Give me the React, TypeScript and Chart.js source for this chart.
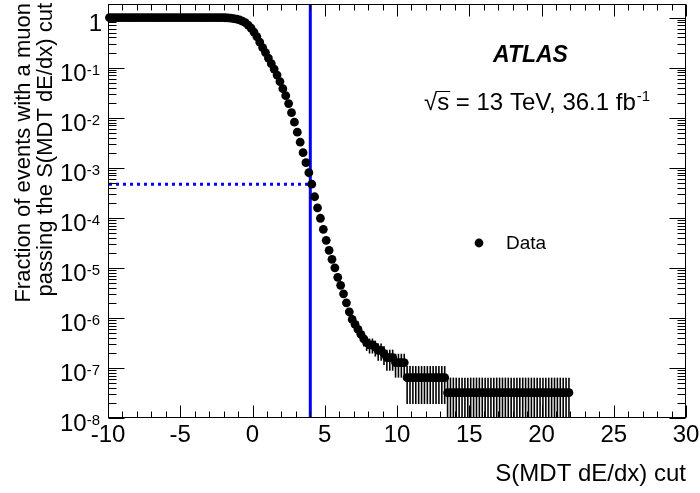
import React, { useEffect, useRef } from "react";
import { Chart, registerables } from "chart.js";

Chart.register(...registerables);

// ---------------- data ----------------
const cutValues: number[] = [
  -9.9, -9.7, -9.5, -9.3, -9.1, -8.9, -8.7, -8.5, -8.3, -8.1,
  -7.9, -7.7, -7.5, -7.3, -7.1, -6.9, -6.7, -6.5, -6.3, -6.1,
  -5.9, -5.7, -5.5, -5.3, -5.1, -4.9, -4.7, -4.5, -4.3, -4.1,
  -3.9, -3.7, -3.5, -3.3, -3.1, -2.9, -2.7, -2.5, -2.3, -2.1,
  -1.9, -1.7, -1.5, -1.3, -1.1, -0.9, -0.7, -0.5, -0.3, -0.1,
  0.1, 0.3, 0.5, 0.7, 0.9, 1.1, 1.3, 1.5, 1.7, 1.9,
  2.1, 2.3, 2.5, 2.7, 2.9, 3.1, 3.3, 3.5, 3.7, 3.9,
  4.1, 4.3, 4.5, 4.7, 4.9, 5.1, 5.3, 5.5, 5.7, 5.9,
  6.1, 6.3, 6.5, 6.7, 6.9, 7.1, 7.3, 7.5, 7.7, 7.9,
  8.1, 8.3, 8.5, 8.7, 8.9, 9.1, 9.3, 9.5, 9.7, 9.9,
  10.1, 10.3, 10.5, 10.7, 10.9, 11.1, 11.3, 11.5, 11.7, 11.9,
  12.1, 12.3, 12.5, 12.7, 12.9, 13.1, 13.3, 13.5, 13.7, 13.9,
  14.1, 14.3, 14.5, 14.7, 14.9, 15.1, 15.3, 15.5, 15.7, 15.9,
  16.1, 16.3, 16.5, 16.7, 16.9, 17.1, 17.3, 17.5, 17.7, 17.9,
  18.1, 18.3, 18.5, 18.7, 18.9, 19.1, 19.3, 19.5, 19.7, 19.9,
  20.1, 20.3, 20.5, 20.7, 20.9, 21.1, 21.3, 21.5, 21.7, 21.9,
];

const fractionPassing: number[] = [
  1, 1, 1, 1, 1, 1, 1, 1, 1, 1,
  1, 1, 1, 1, 1, 1, 1, 1, 1, 1,
  1, 1, 1, 1, 1, 1, 1, 1, 1, 1,
  1, 1, 1, 1, 1, 1, 1, 1, 0.998, 0.995,
  0.991, 0.984, 0.973, 0.955, 0.933, 0.902, 0.851, 0.794, 0.708, 0.617,
  0.513, 0.417, 0.324, 0.251, 0.2, 0.155, 0.12, 0.0933, 0.0708, 0.0525,
  0.038, 0.0275, 0.0191, 0.0126, 0.00813, 0.00513, 0.00324, 0.002, 0.00126, 7.94e-4,
  4.68e-4, 2.63e-4, 1.58e-4, 9.77e-5, 5.89e-5, 3.55e-5, 2.24e-5, 1.48e-5, 1.0e-5, 6.46e-6,
  4.47e-6, 3.02e-6, 2.0e-6, 1.32e-6, 9.33e-7, 7.4e-7, 5.9e-7, 4.7e-7, 3.8e-7, 3.2e-7,
  2.9e-7, 2.9e-7, 2.6e-7, 2.24e-7, 2.24e-7, 1.92e-7, 1.6e-7, 1.6e-7, 1.6e-7, 1.28e-7,
  1.28e-7, 1.28e-7, 1.28e-7, 6.4e-8, 6.4e-8, 6.4e-8, 6.4e-8, 6.4e-8, 6.4e-8, 6.4e-8,
  6.4e-8, 6.4e-8, 6.4e-8, 6.4e-8, 6.4e-8, 6.4e-8, 6.4e-8, 3.2e-8, 3.2e-8, 3.2e-8,
  3.2e-8, 3.2e-8, 3.2e-8, 3.2e-8, 3.2e-8, 3.2e-8, 3.2e-8, 3.2e-8, 3.2e-8, 3.2e-8,
  3.2e-8, 3.2e-8, 3.2e-8, 3.2e-8, 3.2e-8, 3.2e-8, 3.2e-8, 3.2e-8, 3.2e-8, 3.2e-8,
  3.2e-8, 3.2e-8, 3.2e-8, 3.2e-8, 3.2e-8, 3.2e-8, 3.2e-8, 3.2e-8, 3.2e-8, 3.2e-8,
  3.2e-8, 3.2e-8, 3.2e-8, 3.2e-8, 3.2e-8, 3.2e-8, 3.2e-8, 3.2e-8, 3.2e-8, 3.2e-8,
];

const fractionError: number[] = [
  0, 0, 0, 0, 0, 0, 0, 0, 0, 0,
  0, 0, 0, 0, 0, 0, 0, 0, 0, 0,
  0, 0, 0, 0, 0, 0, 0, 0, 0, 0,
  0, 0, 0, 0, 0, 0, 0, 0, 0, 0,
  0, 0, 0, 0, 0, 0, 0, 0, 0, 0,
  0, 0, 0, 0, 0, 0, 0, 0, 0, 0,
  0, 0, 0, 0, 0, 0, 0, 0, 0, 0,
  0, 0, 0, 0, 0, 0, 0, 0, 0, 0,
  0, 0, 2.5e-7, 2.05e-7, 1.72e-7, 1.53e-7, 1.36e-7, 1.24e-7, 1.11e-7, 1.01e-7,
  9.6e-8, 9.6e-8, 9.1e-8, 8.5e-8, 8.5e-8, 7.8e-8, 7.2e-8, 7.2e-8, 7.2e-8, 6.4e-8,
  6.4e-8, 6.4e-8, 6.4e-8, 4.5e-8, 4.5e-8, 4.5e-8, 4.5e-8, 4.5e-8, 4.5e-8, 4.5e-8,
  4.5e-8, 4.5e-8, 4.5e-8, 4.5e-8, 4.5e-8, 4.5e-8, 4.5e-8, 3.2e-8, 3.2e-8, 3.2e-8,
  3.2e-8, 3.2e-8, 3.2e-8, 3.2e-8, 3.2e-8, 3.2e-8, 3.2e-8, 3.2e-8, 3.2e-8, 3.2e-8,
  3.2e-8, 3.2e-8, 3.2e-8, 3.2e-8, 3.2e-8, 3.2e-8, 3.2e-8, 3.2e-8, 3.2e-8, 3.2e-8,
  3.2e-8, 3.2e-8, 3.2e-8, 3.2e-8, 3.2e-8, 3.2e-8, 3.2e-8, 3.2e-8, 3.2e-8, 3.2e-8,
  3.2e-8, 3.2e-8, 3.2e-8, 3.2e-8, 3.2e-8, 3.2e-8, 3.2e-8, 3.2e-8, 3.2e-8, 3.2e-8,
];

const cutLineX = 4;
const cutLineEfficiency = 4.68e-4;

const xTickLabels: number[] = [-10, -5, 0, 5, 10, 15, 20, 25, 30];
const xMinorTicks: number[] = [
  -9, -8, -7, -6, -4, -3, -2, -1, 1, 2, 3, 4, 6, 7, 8, 9, 11, 12, 13, 14,
  16, 17, 18, 19, 21, 22, 23, 24, 26, 27, 28, 29,
];
const yDecadeExponents: number[] = [0, -1, -2, -3, -4, -5, -6, -7, -8];
const yMinorMultipliers: number[] = [2, 3, 4, 5, 6, 7, 8, 9];

const xTitle = "S(MDT dE/dx) cut";
const yTitleLines = ["Fraction of events with a muon", "passing the S(MDT dE/dx) cut"];
const legendLabel = "Data";

const X_MIN = -10;
const X_MAX = 30;
const Y_MIN = 1e-8;
const Y_MAX = 1.83;

const FONT = "'Liberation Sans', Arial, Helvetica, sans-serif";

const decorPlugin = {
  id: "atlasDecor",
  beforeDatasetsDraw(chart: any) {
    const { ctx, chartArea: a, scales } = chart;
    const xs = scales.x;
    const ys = scales.y;
    ctx.save();
    // error bars
    ctx.strokeStyle = "#000";
    ctx.lineWidth = 1.6;
    for (let i = 0; i < cutValues.length; i++) {
      const e = fractionError[i];
      if (!e) continue;
      const v = fractionPassing[i];
      const px = xs.getPixelForValue(cutValues[i]);
      let top = ys.getPixelForValue(v + e);
      const lo = v - e;
      let bot = lo > Y_MIN ? ys.getPixelForValue(lo) : a.bottom;
      top = Math.max(a.top, top);
      bot = Math.min(a.bottom, bot);
      ctx.beginPath();
      ctx.moveTo(px, top);
      ctx.lineTo(px, bot);
      ctx.stroke();
    }
    // cut lines
    const cx = xs.getPixelForValue(cutLineX);
    const cy = ys.getPixelForValue(cutLineEfficiency);
    ctx.strokeStyle = "#0000ff";
    ctx.lineWidth = 3;
    ctx.setLineDash([3, 4]);
    ctx.beginPath();
    ctx.moveTo(a.left + 1, cy);
    ctx.lineTo(cx, cy);
    ctx.stroke();
    ctx.setLineDash([]);
    ctx.beginPath();
    ctx.moveTo(cx, a.top);
    ctx.lineTo(cx, a.bottom);
    ctx.stroke();
    ctx.restore();
  },
  afterDraw(chart: any) {
    const { ctx, chartArea: a, scales } = chart;
    const xs = scales.x;
    const ys = scales.y;
    ctx.save();
    ctx.strokeStyle = "#000";
    ctx.fillStyle = "#000";
    ctx.lineWidth = 1;
    const L = Math.round(a.left) + 0.5;
    const R = Math.round(a.right) - 0.5;
    const T = Math.round(a.top) + 0.5;
    const B = Math.round(a.bottom) - 0.5;
    ctx.strokeRect(L, T, R - L, B - T);

    const line = (x1: number, y1: number, x2: number, y2: number) => {
      ctx.beginPath();
      ctx.moveTo(x1, y1);
      ctx.lineTo(x2, y2);
      ctx.stroke();
    };
    // x ticks
    for (const v of xTickLabels) {
      const px = Math.round(xs.getPixelForValue(v)) + 0.5;
      line(px, B, px, B - 12);
      line(px, T, px, T + 12);
    }
    for (const v of xMinorTicks) {
      const px = Math.round(xs.getPixelForValue(v)) + 0.5;
      line(px, B, px, B - 6);
      line(px, T, px, T + 6);
    }
    // y ticks
    for (const e of yDecadeExponents) {
      const py = Math.round(ys.getPixelForValue(Math.pow(10, e))) + 0.5;
      line(L, py, L + 16, py);
      line(R, py, R - 16, py);
      if (e < 0) {
        for (const m of yMinorMultipliers) {
          const val = m * Math.pow(10, e);
          if (val > Y_MAX) continue;
          const my = Math.round(ys.getPixelForValue(val)) + 0.5;
          line(L, my, L + 8, my);
          line(R, my, R - 8, my);
        }
      }
    }

    // x tick labels
    ctx.font = `24px ${FONT}`;
    ctx.textAlign = "center";
    ctx.textBaseline = "alphabetic";
    for (const v of xTickLabels) {
      const px = xs.getPixelForValue(v);
      ctx.fillText(String(v), px, a.bottom + 24);
    }
    // y tick labels
    const labelRight = a.left - 8;
    for (const e of yDecadeExponents) {
      const py = ys.getPixelForValue(Math.pow(10, e));
      ctx.textAlign = "left";
      if (e === 0) {
        ctx.font = `24px ${FONT}`;
        const w = ctx.measureText("1").width;
        ctx.fillText("1", labelRight - w + 2, py + 13);
      } else {
        const sup = String(e);
        ctx.font = `15px ${FONT}`;
        const ws = ctx.measureText(sup).width;
        ctx.font = `24px ${FONT}`;
        const wb = ctx.measureText("10").width;
        const x0 = labelRight - ws - wb;
        ctx.fillText("10", x0, py + 13);
        ctx.font = `15px ${FONT}`;
        ctx.fillText(sup, x0 + wb, py + 7);
      }
    }

    // axis titles
    ctx.font = `24px ${FONT}`;
    ctx.textAlign = "right";
    ctx.fillText(xTitle, a.right, 481);
    ctx.save();
    ctx.rotate(-Math.PI / 2);
    ctx.font = `22px ${FONT}`;
    ctx.textAlign = "right";
    ctx.fillText(yTitleLines[0], -3, 30);
    ctx.fillText(yTitleLines[1], -3, 52);
    ctx.restore();

    // ATLAS label
    ctx.textAlign = "left";
    ctx.font = `italic bold 23px ${FONT}`;
    ctx.fillText("ATLAS", 493, 62);

    // sqrt(s) line
    ctx.font = `24px ${FONT}`;
    let x = 424;
    const base = 110;
    ctx.fillText("\u221A", x, base);
    const wr = ctx.measureText("\u221A").width;
    x += wr;
    const ws = ctx.measureText("s").width;
    ctx.fillText("s", x, base);
    ctx.lineWidth = 1;
    line(x - 1, base - 18.5, x + ws + 1, base - 18.5);
    x += ws;
    const rest = " = 13 TeV, 36.1 fb";
    ctx.fillText(rest, x, base);
    x += ctx.measureText(rest).width;
    ctx.font = `15px ${FONT}`;
    ctx.fillText("-1", x + 1, base - 9);

    // legend
    ctx.beginPath();
    ctx.arc(479, 243, 4.4, 0, Math.PI * 2);
    ctx.fill();
    ctx.font = `19px ${FONT}`;
    ctx.fillText(legendLabel, 506, 249);

    ctx.restore();
  },
};

export default function App() {
  const canvasRef = useRef<HTMLCanvasElement | null>(null);

  useEffect(() => {
    const canvas = canvasRef.current;
    if (!canvas) return;
    const points = cutValues.map((x, i) => ({ x, y: fractionPassing[i] }));
    const chart = new Chart(canvas, {
      type: "scatter",
      data: {
        datasets: [
          {
            label: legendLabel,
            data: points,
            pointRadius: 4.4,
            pointHoverRadius: 4.4,
            pointBackgroundColor: "#000",
            pointBorderWidth: 0,
            backgroundColor: "#000",
            borderColor: "#000",
            showLine: false,
            clip: false as any,
          },
        ],
      },
      options: {
        animation: false,
        responsive: false,
        maintainAspectRatio: false,
        events: [],
        layout: { padding: { left: 108, right: 14, top: 3, bottom: 75 } },
        scales: {
          x: { type: "linear", min: X_MIN, max: X_MAX, display: false },
          y: { type: "logarithmic", min: Y_MIN, max: Y_MAX, display: false },
        },
        plugins: {
          legend: { display: false },
          tooltip: { enabled: false },
        },
      },
      plugins: [decorPlugin],
    });
    return () => chart.destroy();
  }, []);

  return (
    <div style={{ position: "fixed", left: 0, top: 0, width: 700, height: 493, background: "#fff" }}>
      <canvas ref={canvasRef} width={700} height={493} style={{ display: "block", width: 700, height: 493 }} />
    </div>
  );
}
